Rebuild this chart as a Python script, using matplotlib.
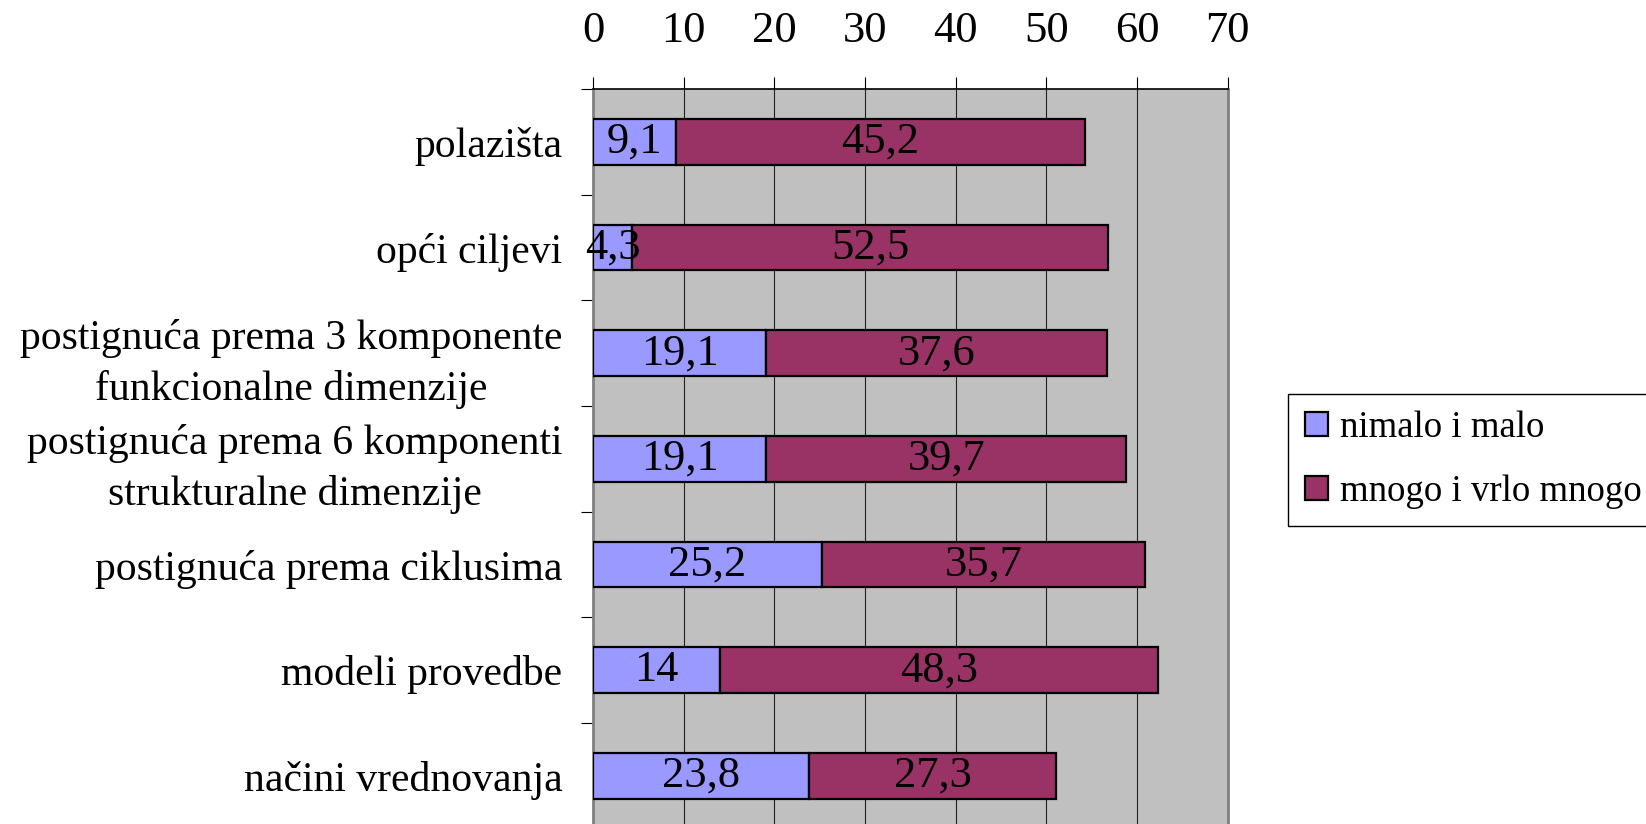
import matplotlib.pyplot as plt
import numpy as np

categories = ['polazišta', 'opći ciljevi',
              'postignuća prema 3 komponente\nfunkcionalne dimenzije',
              'postignuća prema 6 komponenti\nstrukturalne dimenzije',
              'postignuća prema ciklusima', 'modeli provedbe',
              'načini vrednovanja']
nimalo = [9.1, 4.3, 19.1, 19.1, 25.2, 14, 23.8]
mnogo = [45.2, 52.5, 37.6, 39.7, 35.7, 48.3, 27.3]
series_names = ['nimalo i malo', 'mnogo i vrlo mnogo']
x_ticks = [0, 10, 20, 30, 40, 50, 60, 70]

plt.rcParams['font.family'] = ['Liberation Serif', 'DejaVu Serif']

fig = plt.figure(figsize=(16.46, 8.24), dpi=100)
ax = fig.add_axes([0.3603, -0.0057, 0.3856, 0.8977])
ax.set_facecolor('#C0C0C0')

y = np.arange(len(categories))
b1 = ax.barh(y, nimalo, height=0.43, color='#9999FF', edgecolor='black',
             linewidth=1.6, label=series_names[0], zorder=3)
b2 = ax.barh(y, mnogo, left=nimalo, height=0.43, color='#993366',
             edgecolor='black', linewidth=1.6, label=series_names[1], zorder=3)


def fmt(v):
    return f'{v:g}'.replace('.', ',')


for bars, vals in ((b1, nimalo), (b2, mnogo)):
    for rect, v in zip(bars, vals):
        ax.text(rect.get_x() + rect.get_width() / 2, rect.get_y() + rect.get_height() / 2,
                fmt(v), ha='center', va='center', fontsize=32, zorder=4)

ax.set_xlim(0, 70)
ax.set_ylim(len(categories) - 0.5, -0.5)
ax.xaxis.tick_top()
ax.set_xticks(x_ticks)
ax.tick_params(axis='x', direction='out', length=8.6, width=0.8, labelsize=32, pad=19)
ax.grid(axis='x', color='#202020', linewidth=0.8, zorder=1)

ax.set_yticks(y)
ax.set_yticklabels(categories, fontsize=30, multialignment='center', linespacing=1.4)
ax.tick_params(axis='y', length=0, pad=22)
ax.set_yticks(np.arange(-0.5, len(categories), 1), minor=True)
ax.tick_params(axis='y', which='minor', direction='out', length=8.6, width=0.8)

ax.spines['top'].set_color('black')
ax.spines['top'].set_linewidth(1.2)
ax.spines['left'].set_color('#808080')
ax.spines['left'].set_linewidth(2)
ax.spines['right'].set_color('#808080')
ax.spines['right'].set_linewidth(2)
ax.spines['bottom'].set_visible(False)

leg = fig.legend(handles=[b1, b2], loc='upper left', bbox_to_anchor=(0.7825, 0.5218),
                 fontsize=26.5, frameon=True, fancybox=False, edgecolor='black',
                 framealpha=1, handlelength=0.65, handleheight=0.65, handletextpad=0.3,
                 borderpad=0.45, labelspacing=0.8, borderaxespad=0)
leg.get_frame().set_linewidth(1)

fig.savefig('out.png', dpi=100)
